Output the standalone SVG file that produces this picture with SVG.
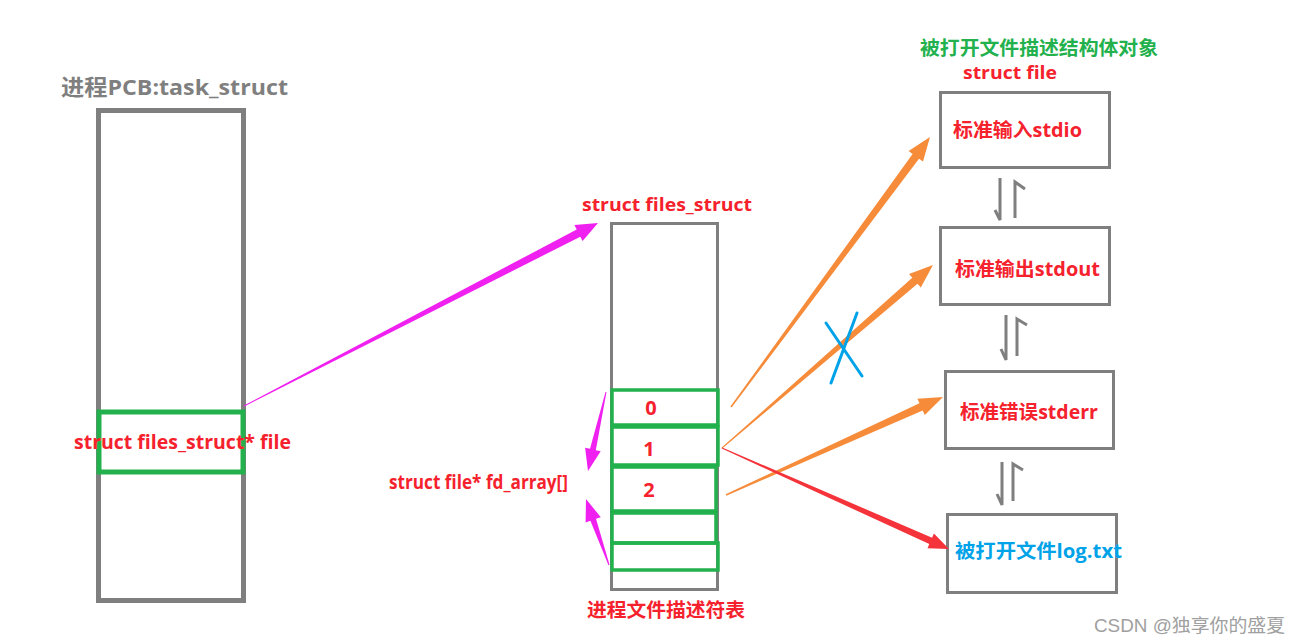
<svg xmlns="http://www.w3.org/2000/svg" width="1300" height="644" viewBox="0 0 1300 644">
<style>
.box{fill:#fff;stroke:#7f7f7f}
.grn{fill:none;stroke:#22b14c}
.t{font-family:"Open Sans","Noto Sans CJK SC",sans-serif;font-weight:bold}
.red{fill:#f5222d}
.gray{fill:#7f7f7f}
.green{fill:#22b14c}
.blue{fill:#00a2e8}
.harp{fill:none;stroke:#7f7f7f;stroke-width:3}
</style>
<rect width="1300" height="644" fill="#fff"/>

<g id="pcb">
<text class="t gray" x="61" y="95" font-size="22" textLength="227" lengthAdjust="spacingAndGlyphs">进程PCB:task_struct</text>
<rect class="box" x="98.5" y="110.5" width="145" height="490" stroke-width="5"/>
<rect class="grn" x="99" y="412" width="144" height="60" stroke-width="5"/>
<text class="t red" x="74" y="449" font-size="19" textLength="217" lengthAdjust="spacingAndGlyphs">struct files_struct* file</text>
</g>

<g id="files_struct">
<text class="t red" x="582" y="211" font-size="18" textLength="170" lengthAdjust="spacingAndGlyphs">struct files_struct</text>
<rect class="box" x="611.5" y="223.5" width="106" height="366" stroke-width="3"/>
<rect class="grn" x="612" y="390" width="106" height="35" stroke-width="3.5"/>
<rect class="grn" x="612" y="427" width="106" height="38" stroke-width="3.5"/>
<rect class="grn" x="612" y="467" width="104" height="44" stroke-width="3.5"/>
<rect class="grn" x="612" y="513" width="104" height="30" stroke-width="3.5"/>
<rect class="grn" x="612" y="543" width="106" height="27" stroke-width="3.5"/>
<text class="t red" x="651" y="415" font-size="20" text-anchor="middle">0</text>
<text class="t red" x="649" y="456" font-size="20" text-anchor="middle">1</text>
<text class="t red" x="649" y="497" font-size="20" text-anchor="middle">2</text>
<text class="t red" x="389" y="489" font-size="19" textLength="179" lengthAdjust="spacingAndGlyphs">struct file* fd_array[]</text>
<text class="t red" x="587" y="617" font-size="19.5" textLength="158" lengthAdjust="spacingAndGlyphs">进程文件描述符表</text>
</g>

<g id="file_header">
<text class="t green" x="920" y="55" font-size="19" textLength="238" lengthAdjust="spacingAndGlyphs">被打开文件描述结构体对象</text>
<text class="t red" x="963" y="79" font-size="18" textLength="94" lengthAdjust="spacingAndGlyphs">struct file</text>
</g>

<g id="stdin">
<rect class="box" x="940.5" y="92.5" width="169" height="75" stroke-width="3"/>
<text class="t red" x="953" y="137" font-size="19" textLength="129" lengthAdjust="spacingAndGlyphs">标准输入stdio</text>
</g>
<g id="stdout">
<rect class="box" x="940.5" y="227.5" width="169" height="77" stroke-width="3"/>
<text class="t red" x="955" y="276" font-size="19" textLength="145" lengthAdjust="spacingAndGlyphs">标准输出stdout</text>
</g>
<g id="stderr">
<rect class="box" x="945.5" y="371.5" width="168" height="77" stroke-width="3"/>
<text class="t red" x="960" y="419" font-size="19" textLength="138" lengthAdjust="spacingAndGlyphs">标准错误stderr</text>
</g>
<g id="logtxt">
<rect class="box" x="947.5" y="514.5" width="169" height="78" stroke-width="3"/>
<text class="t blue" x="955" y="558" font-size="19" textLength="167" lengthAdjust="spacingAndGlyphs">被打开文件log.txt</text>
</g>

<g id="connectors">
<polygon fill="#f020f0" points="244.2,406.4 580.3,236.7 582.6,241.1 598,223 574.4,225.1 576.7,229.5 243.8,405.6"/>
<polygon fill="#f020f0" points="606.5,392.1 595.8,450.2 600.7,451.3 588,471 585.1,447.7 590,448.8 605.5,391.9"/>
<polygon fill="#f020f0" points="609.5,564.8 596,518.8 600.8,517.2 586,499 585.6,522.4 590.4,520.8 608.5,565.2"/>
<polygon fill="#f68b3a" points="731.6,407.5 919,158.7 923,161.6 930,137 908.6,150.9 912.6,153.9 730.4,406.5"/>
<polygon fill="#f68b3a" points="722.3,448.4 917.5,283.7 920.8,287.5 933,265 909,273.9 912.3,277.7 721.7,447.6"/>
<polygon fill="#f68b3a" points="726.3,495.7 922.7,410.5 924.8,415.1 943,397 917.4,398.7 919.5,403.3 725.7,494.3"/>
<polygon fill="#f5333a" points="721.8,448.5 929.3,544.1 927.5,548.2 949,549 933.9,533.6 932.1,537.7 722.2,447.5"/>
<path class="harp" d="M1000,178 V220 L995,210"/>
<path class="harp" d="M1015,218 V182 L1025,189"/>
<path class="harp" d="M1006,315 V360 L1001,349"/>
<path class="harp" d="M1017,356 V319 L1027,325"/>
<path class="harp" d="M1002,462 V505 L997,494"/>
<path class="harp" d="M1013,501 V464 L1023,470"/>
<path fill="none" stroke="#00a2e8" stroke-width="3" stroke-linecap="round" d="M826,323 L862,376 M857,313 L831,383"/>
</g>

<text x="1094" y="632" font-family="'Liberation Sans','Noto Sans CJK SC',sans-serif" font-size="18" fill="#a0a0a0" textLength="191" lengthAdjust="spacingAndGlyphs">CSDN @独享你的盛夏</text>
</svg>
